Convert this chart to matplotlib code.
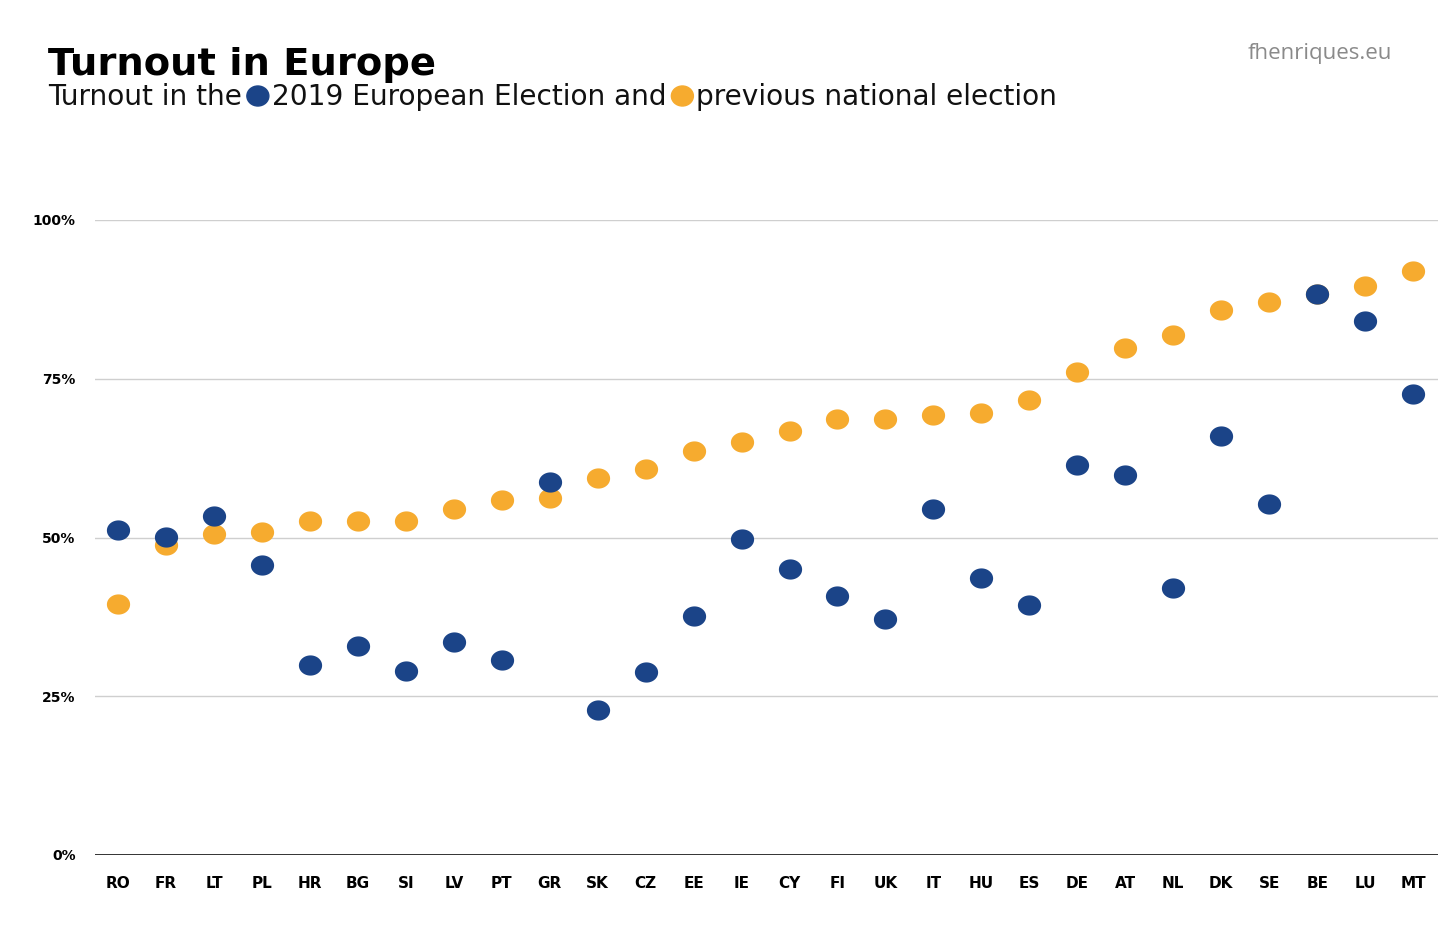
import matplotlib
matplotlib.use("Agg")
import matplotlib.pyplot as plt
from matplotlib.path import Path
import numpy as np

countries = ["RO", "FR", "LT", "PL", "HR", "BG", "SI", "LV", "PT", "GR", "SK", "CZ", "EE", "IE",
             "CY", "FI", "UK", "IT", "HU", "ES", "DE", "AT", "NL", "DK", "SE", "BE", "LU", "MT"]
eu_2019 = [51.2, 50.1, 53.4, 45.7, 29.9, 32.9, 29.0, 33.5, 30.7, 58.7, 22.8, 28.8, 37.6, 49.8,
           45.0, 40.8, 37.2, 54.5, 43.6, 39.4, 61.4, 59.8, 42.0, 66.0, 55.3, 88.3, 84.1, 72.6]
national = [39.5, 48.8, 50.6, 50.9, 52.6, 52.6, 52.6, 54.5, 55.9, 56.2, 59.4, 60.8, 63.6, 65.0,
            66.8, 68.7, 68.7, 69.3, 69.6, 71.7, 76.1, 79.8, 81.9, 85.8, 87.1, 88.3, 89.6, 92.0]
yticks = [0, 25, 50, 75, 100]
ytick_labels = ["0%", "25%", "50%", "75%", "100%"]

BLUE = "#1B4488"
ORANGE = "#F6AB2F"

t = np.linspace(0, 2 * np.pi, 60)
ellipse = Path(np.column_stack([1.15 * np.cos(t), np.sin(t)]))

fig = plt.figure(figsize=(14.56, 9.44), dpi=100)
ax = fig.add_axes([95 / 1456, 1 - 855 / 944, 1343 / 1456, (855 - 220) / 944])

x = np.arange(len(countries))
ax.scatter(x, national, s=280, marker=ellipse, color=ORANGE, linewidths=0, zorder=3, clip_on=False)
ax.scatter(x, eu_2019, s=280, marker=ellipse, color=BLUE, linewidths=0, zorder=4, clip_on=False)

ax.set_xlim(-0.48, len(countries) - 0.48)
ax.set_ylim(0, 100)
for yv in yticks[1:]:
    ax.axhline(yv, color="#CFCFCF", lw=1, zorder=1)
ax.axhline(0, color="#111111", lw=1.2, zorder=2)
for s in ax.spines.values():
    s.set_visible(False)
ax.set_yticks(yticks)
ax.set_yticklabels(ytick_labels, fontsize=10, fontweight="bold", family="DejaVu Sans")
ax.set_xticks(x)
ax.set_xticklabels(countries, fontsize=11, fontweight="bold", family="DejaVu Sans")
ax.tick_params(axis="both", length=0)
ax.tick_params(axis="y", pad=14)
ax.tick_params(axis="x", pad=15)

fig.text(48 / 1456, 1 - 75 / 944, "Turnout in Europe", fontsize=27.7, fontweight="bold",
         family="DejaVu Sans", color="black", va="baseline", ha="left")

# subtitle with inline dots
fig.canvas.draw()
r = fig.canvas.get_renderer()
yb = 1 - 105 / 944
xpos = 48
pieces = [("Turnout in the", None), ("●", BLUE), ("2019 European Election and", None),
          ("●", ORANGE), ("previous national election", None)]
for txt, col in pieces:
    if col is None:
        tt = fig.text(xpos / 1456, yb, txt, fontsize=20.2, family="DejaVu Sans", color="#111111",
                      va="baseline", ha="left")
        bb = tt.get_window_extent(renderer=r)
        xpos = bb.x1 + 6
    else:
        fig.add_artist(matplotlib.patches.Ellipse(((xpos + 10) / 1456, 1 - 96 / 944),
                                                  22 / 1456, 20 / 944, color=col,
                                                  transform=fig.transFigure))
        xpos = xpos + 24

fig.text(1392 / 1456, 1 - 54 / 944, "fhenriques.eu", fontsize=16, family="Open Sans",
         color="#8A8A8A", ha="right", va="center")

fig.savefig("out.png", dpi=100)
